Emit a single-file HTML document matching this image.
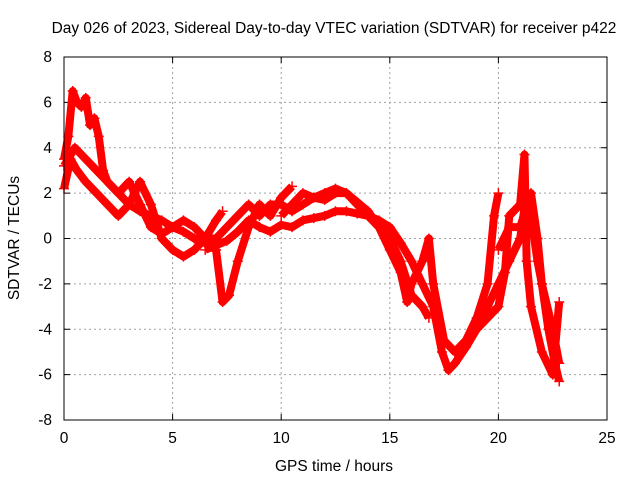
<!DOCTYPE html>
<html><head><meta charset="utf-8"><style>
body{margin:0;background:#fff}
svg{display:block;font-family:"Liberation Sans",sans-serif;font-size:15.5px}
</style></head><body>
<svg id="c" width="640" height="480">
<rect width="640" height="480" fill="#fff"/>
<text x="334" y="33" text-anchor="middle">Day 026 of 2023, Sidereal Day-to-day VTEC variation (SDTVAR) for receiver p422</text>
<text x="334" y="471" text-anchor="middle">GPS time / hours</text>
<text transform="translate(19,238) rotate(-90)" text-anchor="middle">SDTVAR / TECUs</text>
<g id="grid"></g><g id="ticks"></g><g id="series"></g>
<rect x="64" y="57" width="543" height="363" fill="none" stroke="#000"/>
</svg>
<script>
const xTicks=[0,5,10,15,20,25];
const yTicks=[-8,-6,-4,-2,0,2,4,6,8];
const s1=[[0,3.5],[0.2,4.5],[0.4,6.5],[0.6,6],[0.8,5.8],[1.0,6.2],[1.2,5],[1.4,5.3],[1.6,4.5],[1.8,3],[2.0,2.5],[2.5,2],[3,1.5],[3.5,1.2],[4,1],[4.5,0.8],[5,0.5],[5.5,0.3],[6,0],[6.5,-0.2],[7,-0.5],[7.3,-2.8],[7.6,-2.5],[8,-1],[8.5,0.5],[9,1.5],[9.5,1],[10,1.8],[10.5,2.3]];
const s2=[[0,2.2],[0.3,3.5],[0.6,3],[1,2.5],[1.5,2],[2,1.5],[2.5,1],[3,1.5],[3.5,2.5],[4,1.5],[4.5,0],[5,-0.5],[5.5,-0.8],[6,-0.5],[6.5,0],[7,0.8],[7.3,1.2]];
const s3=[[0,3.2],[0.5,4],[1,3.5],[1.5,3],[2,2.5],[2.5,2],[3,2.5],[3.5,1.5],[4,0.5],[4.5,0.2],[5,0.5],[5.5,0.8],[6,0.5],[6.5,0],[7,0],[7.5,0.5],[8,1],[8.5,1.5],[9,1],[9.5,1.5],[10,1.5],[10.5,1.2],[11,1.5],[11.5,1.8],[12,1.7],[12.5,2],[13,2],[13.5,1.5],[14,1],[14.5,0.8],[15,0.5],[15.5,-0.2],[16,-1],[16.5,-2],[17,-3],[17.4,-5],[17.7,-5.8],[18,-5.5],[18.5,-4.8],[19,-4],[19.5,-3],[20,-2],[20.5,-1],[21,0],[21.3,2],[21.5,1],[21.8,-1],[22,-2],[22.3,-4],[22.6,-5.5],[22.8,-6.3]];
const s4=[[6.5,-0.5],[7,-0.3],[7.5,-0.1],[8,0.3],[8.5,0.8],[9,0.5],[9.5,0.3],[10,0.6],[10.5,0.5],[11,0.8],[11.5,0.9],[12,1],[12.5,1.2],[13,1.2],[13.5,1.1],[14,1],[14.5,0.5],[15,0],[15.5,-1],[16,-2.5],[16.5,-3],[16.8,-3.5]];
const s5=[[10,1],[10.5,1.5],[11,2],[11.5,1.8],[12,2],[12.5,2.2],[13,2],[13.5,1.6],[14,1.2],[14.5,0.5],[15,-0.5],[15.5,-1.5],[15.8,-2.8],[16,-2],[16.5,-1],[16.8,0],[17,-2],[17.5,-4.5],[18,-5],[18.5,-4.5],[19,-3.5],[19.5,-2],[19.8,1],[20,2]];
const s6=[[18,-5],[19,-4],[19.5,-3.5],[20,-3],[20.3,-1.5],[20.5,1],[21,1.5],[21.2,3.7],[21.3,-1],[21.5,-3],[22,-5],[22.5,-6],[22.8,-2.8]];
const s7=[[20,-0.5],[20.5,0.5],[21,0.5],[21.5,2],[21.8,0],[22,-2],[22.5,-4],[22.8,-5.5]];
const allSeries=[s1,s2,s3,s4,s5,s6,s7];
const X=v=>64+v*543/25, Y=v=>238.5-v*363/16;
const NS='http://www.w3.org/2000/svg';
function mk(t,a,p){const e=document.createElementNS(NS,t);for(const k in a)e.setAttribute(k,a[k]);p.appendChild(e);return e;}
const grid=document.getElementById('grid'),ticks=document.getElementById('ticks'),ser=document.getElementById('series');
xTicks.forEach(t=>{const x=X(t);
 if(t>0&&t<25){const l=mk('line',{x1:x,x2:x,y1:57,y2:420,stroke:'#a0a0a0','stroke-dasharray':'2,3'},grid);}
 mk('line',{x1:x,x2:x,y1:420,y2:414,stroke:'#000'},ticks);mk('line',{x1:x,x2:x,y1:57,y2:63,stroke:'#000'},ticks);
 const tx=mk('text',{x:x,y:443,'text-anchor':'middle'},ticks);tx.textContent=t;
 });
yTicks.forEach(t=>{const y=Y(t);
 if(t>-8&&t<8){const l=mk('line',{x1:64,x2:607,y1:y,y2:y,stroke:'#a0a0a0','stroke-dasharray':'2,3'},grid);}
 mk('line',{x1:64,x2:70,y1:y,y2:y,stroke:'#000'},ticks);mk('line',{x1:607,x2:601,y1:y,y2:y,stroke:'#000'},ticks);
 const tx=mk('text',{x:52,y:y+5,'text-anchor':'end'},ticks);tx.textContent=t;
 });
allSeries.forEach((s,i)=>{
 const pl=mk('polyline',{points:s.map(p=>X(p[0])+','+Y(p[1])).join(' '),fill:'none',stroke:'#ff0000','stroke-width':8,'stroke-linejoin':'round'},ser);
 
 s.forEach(p=>{const x=X(p[0]),y=Y(p[1]);
  const m=mk('path',{d:`M${x-5},${y}h10M${x},${y-5}v10`,stroke:'#ff0000','stroke-width':1.5},ser);
  });
});
</script>
</body></html>
